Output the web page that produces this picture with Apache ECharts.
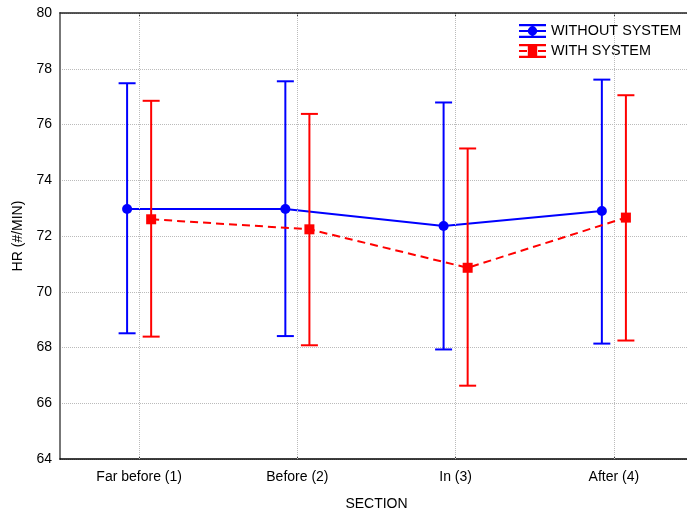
<!DOCTYPE html>
<html>
<head>
<meta charset="utf-8">
<script src="https://cdn.jsdelivr.net/npm/echarts@6/dist/echarts.min.js"></script>
<style>html,body{margin:0;padding:0;background:#fff;overflow:hidden;}#c{width:687px;height:513px;}</style>
</head>
<body>
<div id="c"></div>
<script>
const categories = ['Far before (1)', 'Before (2)', 'In (3)', 'After (4)'];
const withoutMean = [72.97, 72.97, 72.36, 72.90];
const withoutLow  = [68.51, 68.41, 67.93, 68.14];
const withoutHigh = [77.48, 77.55, 76.79, 77.61];
const withMean = [72.60, 72.24, 70.86, 72.66];
const withLow  = [68.39, 68.08, 66.63, 68.25];
const withHigh = [76.85, 76.38, 75.14, 77.05];
const seriesNames = ['WITHOUT SYSTEM', 'WITH SYSTEM'];
const yMin = 64, yMax = 80, yStep = 2;

const OFF = 0.076;
const FONT = "'Liberation Sans', Arial, sans-serif";
const BLUE = '#0000ff', RED = '#ff0000';
const CAP = 8.5;

function errRender(color) {
  return function (params, api) {
    const x = api.value(0);
    const lo = api.coord([x, api.value(1)]);
    const hi = api.coord([x, api.value(2)]);
    const st = { stroke: color, lineWidth: 2 };
    return {
      type: 'group',
      children: [
        { type: 'line', shape: { x1: lo[0], y1: lo[1], x2: hi[0], y2: hi[1] }, style: st },
        { type: 'line', shape: { x1: lo[0] - CAP, y1: lo[1], x2: lo[0] + CAP, y2: lo[1] }, style: st },
        { type: 'line', shape: { x1: hi[0] - CAP, y1: hi[1], x2: hi[0] + CAP, y2: hi[1] }, style: st }
      ]
    };
  };
}

const blueIcon = 'path://M0,0H27V2.2H0Z M0,11.8H27V14H0Z M0,5.9H27V8.1H0Z M12.4,0H14.6V14H12.4Z M13.5,2.3A4.7,4.7 0 1,1 13.49,2.3Z';
const redIcon = 'path://M0,0H27V2.2H0Z M0,11.8H27V14H0Z M0,5.9H8V8.1H0Z M19,5.9H27V8.1H19Z M12.4,0H14.6V14H12.4Z M8.8,2.3H18.2V11.7H8.8Z';

const chart = echarts.init(document.getElementById('c'));
chart.setOption({
  animation: false,
  backgroundColor: '#fff',
  textStyle: { fontFamily: FONT },
  grid: { left: 60, right: -6, top: 13, bottom: 54, containLabel: false, outerBoundsMode: 'none' },
  legend: {
    orient: 'vertical',
    left: 514, top: 19,
    itemWidth: 27, itemHeight: 14, itemGap: 6,
    symbolKeepAspect: false,
    textStyle: { fontSize: 14.4, color: '#000', fontFamily: FONT },
    data: [
      { name: seriesNames[0], icon: blueIcon, itemStyle: { color: BLUE } },
      { name: seriesNames[1], icon: redIcon, itemStyle: { color: RED } }
    ]
  },
  xAxis: [
    {
      type: 'category', data: categories, position: 'bottom', boundaryGap: true,
      axisLine: { lineStyle: { color: '#000', width: 1.5 } },
      axisTick: { show: true, inside: true, alignWithLabel: true, length: 3, lineStyle: { color: '#333' } },
      axisLabel: { fontSize: 14, color: '#000', margin: 11, fontFamily: FONT },
      splitLine: { show: false },
      name: 'SECTION', nameLocation: 'middle', nameGap: 38,
      nameTextStyle: { fontSize: 14, color: '#000', fontFamily: FONT }
    },
    {
      type: 'category', data: categories, position: 'top', boundaryGap: true,
      axisLine: { lineStyle: { color: '#222', width: 1.5 } },
      axisTick: { show: true, inside: true, alignWithLabel: true, length: 3, lineStyle: { color: '#333' } },
      axisLabel: { show: false },
      splitLine: { show: false }
    },
    { type: 'value', min: 0.5, max: categories.length + 0.5, show: false, position: 'bottom' }
  ],
  yAxis: {
    type: 'value', min: yMin, max: yMax, interval: yStep,
    axisLine: { show: true, lineStyle: { color: '#777', width: 2 } },
    axisTick: { show: false },
    axisLabel: { fontSize: 14, color: '#000', margin: 8, fontFamily: FONT },
    splitLine: { show: true, lineStyle: { color: '#bbb', type: 'dotted', width: 1 } },
    name: 'HR (#/MIN)', nameLocation: 'middle', nameGap: 32, nameRotate: 90,
    nameTextStyle: { fontSize: 14, color: '#000', fontFamily: FONT }
  },
  series: [
    {
      name: '_grid', type: 'line', xAxisIndex: 2, data: [], z: 1, silent: true,
      markLine: {
        silent: true, symbol: 'none', animation: false,
        label: { show: false },
        lineStyle: { color: '#bbb', type: 'dotted', width: 1 },
        data: categories.map((c, i) => ({ xAxis: i + 1 }))
      }
    },
    {
      name: seriesNames[0], type: 'custom', xAxisIndex: 2, z: 3,
      renderItem: errRender(BLUE),
      data: withoutLow.map((l, i) => [i + 1 - OFF, l, withoutHigh[i]])
    },
    {
      name: seriesNames[0], type: 'line', xAxisIndex: 2, z: 4,
      data: withoutMean.map((v, i) => [i + 1 - OFF, v]),
      symbol: 'circle', symbolSize: 10,
      itemStyle: { color: BLUE },
      lineStyle: { color: BLUE, width: 2 }
    },
    {
      name: seriesNames[1], type: 'custom', xAxisIndex: 2, z: 5,
      renderItem: errRender(RED),
      data: withLow.map((l, i) => [i + 1 + OFF, l, withHigh[i]])
    },
    {
      name: seriesNames[1], type: 'line', xAxisIndex: 2, z: 6,
      data: withMean.map((v, i) => [i + 1 + OFF, v]),
      symbol: 'rect', symbolSize: 10,
      itemStyle: { color: RED },
      lineStyle: { color: RED, width: 2, type: [8, 5] }
    }
  ]
});
</script>
</body>
</html>
